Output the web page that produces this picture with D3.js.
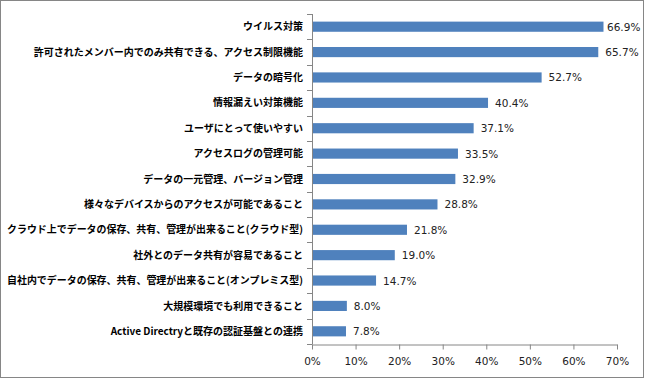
<!DOCTYPE html>
<html>
<head>
<meta charset="utf-8">
<script src="https://cdn.jsdelivr.net/npm/d3@7"></script>
<style>
body { margin: 0; background: #fff; }
svg { display: block; }
</style>
</head>
<body>
<svg id="chart" width="645" height="379"></svg>
<script>
// categories, top to bottom
var categories = [
  "ウイルス対策",
  "許可されたメンバー内でのみ共有できる、アクセス制限機能",
  "データの暗号化",
  "情報漏えい対策機能",
  "ユーザにとって使いやすい",
  "アクセスログの管理可能",
  "データの一元管理、バージョン管理",
  "様々なデバイスからのアクセスが可能であること",
  "クラウド上でデータの保存、共有、管理が出来ること(クラウド型)",
  "社外とのデータ共有が容易であること",
  "自社内でデータの保存、共有、管理が出来ること(オンプレミス型)",
  "大規模環境でも利用できること",
  "Active Directryと既存の認証基盤との連携"
];
var values = [66.9, 65.7, 52.7, 40.4, 37.1, 33.5, 32.9, 28.8, 21.8, 19.0, 14.7, 8.0, 7.8];
var ticks = [0, 10, 20, 30, 40, 50, 60, 70];

var svg = d3.select("#chart");

// chart frame
svg.append("rect")
   .attr("x", 0.5).attr("y", 0.5)
   .attr("width", 643).attr("height", 377)
   .attr("fill", "#fff")
   .attr("stroke", "#868686");

var plotL = 312, plotR = 617, plotT = 14, plotB = 344;

var x = d3.scaleLinear().domain([0, 70]).range([plotL, plotR]);
var y = d3.scaleBand().domain(categories).range([plotT, plotB]).paddingInner(0.6).paddingOuter(0.3);
var yb = d3.scaleBand().domain(categories).range([plotT, plotB]);

var fontCJK = "'Noto Sans CJK JP', 'Noto Sans', sans-serif";
var fontNum = "'DejaVu Sans', sans-serif";

// bars
svg.selectAll("rect.bar")
   .data(values)
   .enter().append("rect")
   .attr("class", "bar")
   .attr("x", x(0))
   .attr("y", function(d, i) { return y(categories[i]); })
   .attr("width", function(d) { return x(d) - x(0); })
   .attr("height", y.bandwidth())
   .attr("fill", "#4F81BD");

// value labels
svg.selectAll("text.val")
   .data(values)
   .enter().append("text")
   .attr("class", "val")
   .attr("x", function(d) { return Math.min(x(d) + 7, 607); })
   .attr("y", function(d, i) { return y(categories[i]) + y.bandwidth() / 2; })
   .attr("dy", "0.38em")
   .attr("font-family", fontNum)
   .attr("font-size", 10.5)
   .attr("fill", "#222")
   .text(function(d) { return d.toFixed(1) + "%"; });

// y axis
var yAxis = svg.append("g").attr("transform", "translate(" + plotL + ",0)");
yAxis.append("line")
   .attr("x1", 0.5).attr("x2", 0.5).attr("y1", plotT).attr("y2", plotB)
   .attr("stroke", "#868686");
var bounds = categories.map(function(c) { return yb(c); }).concat([plotB]);
yAxis.selectAll("line.tk")
   .data(bounds)
   .enter().append("line")
   .attr("class", "tk")
   .attr("x1", -5).attr("x2", 0.5)
   .attr("y1", function(d) { return Math.round(d) + 0.5; })
   .attr("y2", function(d) { return Math.round(d) + 0.5; })
   .attr("stroke", "#868686");

// category labels
var maxW = 296;
svg.selectAll("text.cat")
   .data(categories)
   .enter().append("text")
   .attr("class", "cat")
   .attr("x", 303)
   .attr("y", function(d) { return y(d) + y.bandwidth() / 2; })
   .attr("dy", "0.36em")
   .attr("text-anchor", "end")
   .attr("font-family", fontCJK)
   .attr("font-weight", "bold")
   .attr("font-size", 10)
   .attr("fill", "#000")
   .text(function(d) { return d; })
   .each(function() {
     var w = this.getComputedTextLength();
     if (w > maxW) {
       d3.select(this).attr("textLength", maxW).attr("lengthAdjust", "spacingAndGlyphs");
     }
   });

// x axis
var xAxis = svg.append("g")
   .attr("transform", "translate(0," + (plotB + 0.5) + ")")
   .call(d3.axisBottom(x).tickValues(ticks).tickSize(5).tickSizeOuter(0)
         .tickFormat(function(d) { return d + "%"; }));
xAxis.select(".domain").attr("stroke", "#868686");
xAxis.selectAll(".tick line").attr("stroke", "#868686");
xAxis.selectAll(".tick text")
   .attr("y", 13)
   .attr("font-family", fontNum)
   .attr("font-size", 10.5)
   .attr("fill", "#222");
</script>
</body>
</html>
